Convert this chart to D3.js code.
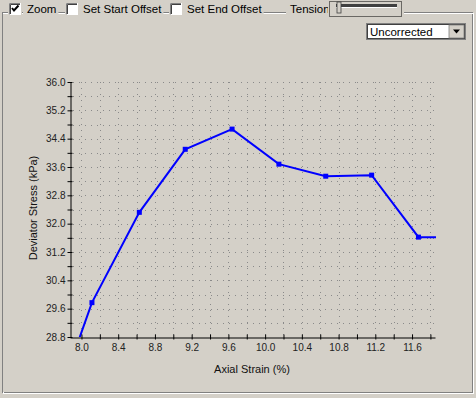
<!DOCTYPE html>
<html><head><meta charset="utf-8">
<script src="https://cdn.jsdelivr.net/npm/d3@7"></script>
<style>html,body{margin:0;padding:0;background:#d4d0c8;}svg{display:block;}</style>
</head><body>
<script>
const strain = [7.60, 8.114, 8.63, 9.13, 9.64, 10.15, 10.66, 11.16, 11.67, 12.18];
const stress = [26.0, 29.77, 32.32, 34.10, 34.67, 33.68, 33.34, 33.37, 31.62, 31.62];
const yTickLabels = ["28.8","29.6","30.4","31.2","32.0","32.8","33.6","34.4","35.2","36.0"];
const xTickLabels = ["8.0","8.4","8.8","9.2","9.6","10.0","10.4","10.8","11.2","11.6"];
const xDomain = [7.875, 11.85];
const yDomain = [28.8, 36.0];

const W = 476, H = 398;
const svg = d3.select("body").append("svg").attr("width", W).attr("height", H)
  .style("font-family", "'Liberation Sans', Arial, sans-serif");
svg.append("rect").attr("width", W).attr("height", H).attr("fill", "#d4d0c8");

// group box frame (etched)
const fr = svg.append("g");
fr.append("rect").attr("x", 2.5).attr("y", 12.5).attr("width", 470).attr("height", 380).attr("fill", "none").attr("stroke", "#808080");
fr.append("rect").attr("x", 3.5).attr("y", 13.5).attr("width", 470).attr("height", 380).attr("fill", "none").attr("stroke", "#ffffff");
fr.append("rect").attr("x", 3).attr("y", 14).attr("width", 469).attr("height", 378).attr("fill", "#d4d0c8");

// top controls
const ctrl = svg.append("g").attr("font-size", 11.5).attr("fill", "#000");
function checkbox(x, checked) {
  ctrl.append("rect").attr("x", x - 1).attr("y", 1).attr("width", 14).attr("height", 17).attr("fill", "#d4d0c8");
  ctrl.append("rect").attr("x", x).attr("y", 3).attr("width", 12).attr("height", 12).attr("fill", "#fff");
  ctrl.append("path").attr("d", `M${x+0.5},${15}V${3.5}H${x+12}`).attr("stroke", "#808080").attr("fill", "none");
  ctrl.append("path").attr("d", `M${x+1.5},${14}V${4.5}H${x+11}`).attr("stroke", "#404040").attr("fill", "none");
  ctrl.append("path").attr("d", `M${x+0.5},${14.5}H${x+11.5}V${3}`).attr("stroke", "#ffffff").attr("fill", "none");
  if (checked) ctrl.append("path").attr("d", `M${x+3},${8} L${x+5},${10.5} L${x+9.5},${5.5}`).attr("stroke", "#000").attr("stroke-width", 2).attr("fill", "none");
}
function label(x, t) {
  const bg = ctrl.append("rect").attr("x", x - 4).attr("y", 1).attr("height", 17).attr("fill", "#d4d0c8");
  const tx = ctrl.append("text").attr("x", x).attr("y", 13).text(t);
  const w = tx.node().getComputedTextLength();
  bg.attr("width", w + 6);
}
checkbox(9, true); label(27, "Zoom");
checkbox(66, false); label(83, "Set Start Offset");
checkbox(170, false); label(187, "Set End Offset");
label(290, "Tension");
// slider
ctrl.append("rect").attr("x", 328).attr("y", 0).attr("width", 76).attr("height", 18).attr("fill", "#d4d0c8");
ctrl.append("rect").attr("x", 329.5).attr("y", 1.5).attr("width", 72).attr("height", 15).attr("fill", "none").attr("stroke", "#000").attr("stroke-dasharray", "1,1");
ctrl.append("rect").attr("x", 336).attr("y", 4).attr("width", 61).attr("height", 3).attr("fill", "#404040");
ctrl.append("line").attr("x1", 336).attr("x2", 397).attr("y1", 7.5).attr("y2", 7.5).attr("stroke", "#fff");
ctrl.append("rect").attr("x", 337).attr("y", 2).attr("width", 4).attr("height", 11).attr("fill", "#d4d0c8").attr("stroke", "#404040").attr("stroke-width", 0.8);
// dropdown
ctrl.append("rect").attr("x", 366.5).attr("y", 23.5).attr("width", 99).attr("height", 16).attr("fill", "#fff").attr("stroke", "#808080");
ctrl.append("rect").attr("x", 367.5).attr("y", 24.5).attr("width", 97).attr("height", 14).attr("fill", "none").attr("stroke", "#404040");
ctrl.append("text").attr("x", 370).attr("y", 35.5).text("Uncorrected");
ctrl.append("rect").attr("x", 449).attr("y", 25).attr("width", 15).attr("height", 13).attr("fill", "#d4d0c8").attr("stroke", "#808080").attr("stroke-width", 0.8);
ctrl.append("path").attr("d", "M453,29.5h7l-3.5,4z").attr("fill", "#000");

// chart
const x0 = 70, x1 = 435, y0 = 337, y1 = 82;
const x = d3.scaleLinear().domain(xDomain).range([x0, x1]);
const y = d3.scaleLinear().domain(yDomain).range([y0, y1]);

const xMinor = d3.range(8.0, 11.85, 0.2).map(v => +v.toFixed(1));
const yMinor = d3.range(28.8, 36.01, 0.4).map(v => +v.toFixed(1));

const grid = svg.append("g").attr("stroke", "#8a8a8a").attr("stroke-dasharray", "1,5");
grid.selectAll(".gv").data(xMinor).join("line")
  .attr("x1", d => Math.round(x(d)) + 0.5).attr("x2", d => Math.round(x(d)) + 0.5)
  .attr("y1", y1).attr("y2", y0);
grid.selectAll(".gh").data(yMinor.filter(d => d > 28.8)).join("line")
  .attr("y1", d => Math.round(y(d)) + 0.5).attr("y2", d => Math.round(y(d)) + 0.5)
  .attr("x1", x0 + 3).attr("x2", x1);

svg.append("clipPath").attr("id", "clip").append("rect")
  .attr("x", x0).attr("y", y1).attr("width", x1 - x0 + 1).attr("height", y0 - y1);

const pts = strain.map((s, i) => [s, stress[i]]);
const g = svg.append("g").attr("clip-path", "url(#clip)");
g.append("path").datum(pts)
  .attr("d", d3.line().x(d => x(d[0])).y(d => y(d[1])))
  .attr("fill", "none").attr("stroke", "#0000ff").attr("stroke-width", 2);
g.selectAll(".m").data(pts).join("rect")
  .attr("x", d => x(d[0]) - 2.5).attr("y", d => y(d[1]) - 2.5)
  .attr("width", 5).attr("height", 5).attr("fill", "#0000ff");

// axes
const yAxis = d3.axisLeft(y).tickValues(yMinor).tickSize(4).tickSizeOuter(0)
  .tickFormat(d => { const s = d.toFixed(1); return yTickLabels.includes(s) ? s : ""; });
const ya = svg.append("g").attr("transform", `translate(${x0 + 0.5},0)`).call(yAxis);
ya.selectAll(".tick line").attr("x1", 2).attr("x2", -3).attr("stroke", "#000");
ya.select(".domain").attr("stroke", "#000");
ya.selectAll("text").attr("font-size", 10).attr("fill", "#222").attr("x", -5)
  .attr("font-family", "'Liberation Sans', Arial, sans-serif");

const xAxis = d3.axisBottom(x).tickValues(xMinor).tickSize(3).tickSizeOuter(0)
  .tickFormat(d => { const s = d.toFixed(1); return xTickLabels.includes(s) ? s : ""; });
const xa = svg.append("g").attr("transform", `translate(0,${y0 + 0.5})`).call(xAxis);
xa.selectAll(".tick line").attr("y1", -3).attr("y2", 2).attr("stroke", "#000");
xa.select(".domain").attr("stroke", "#000");
xa.selectAll("text").attr("font-size", 10).attr("fill", "#222").attr("y", 6)
  .attr("font-family", "'Liberation Sans', Arial, sans-serif");

svg.append("text").attr("x", 252).attr("y", 373).attr("text-anchor", "middle")
  .attr("font-size", 11).attr("fill", "#111").text("Axial Strain (%)");
svg.append("text").attr("transform", "translate(37,208) rotate(-90)").attr("text-anchor", "middle")
  .attr("font-size", 11).attr("fill", "#111").text("Deviator Stress (kPa)");
</script>
</body></html>
